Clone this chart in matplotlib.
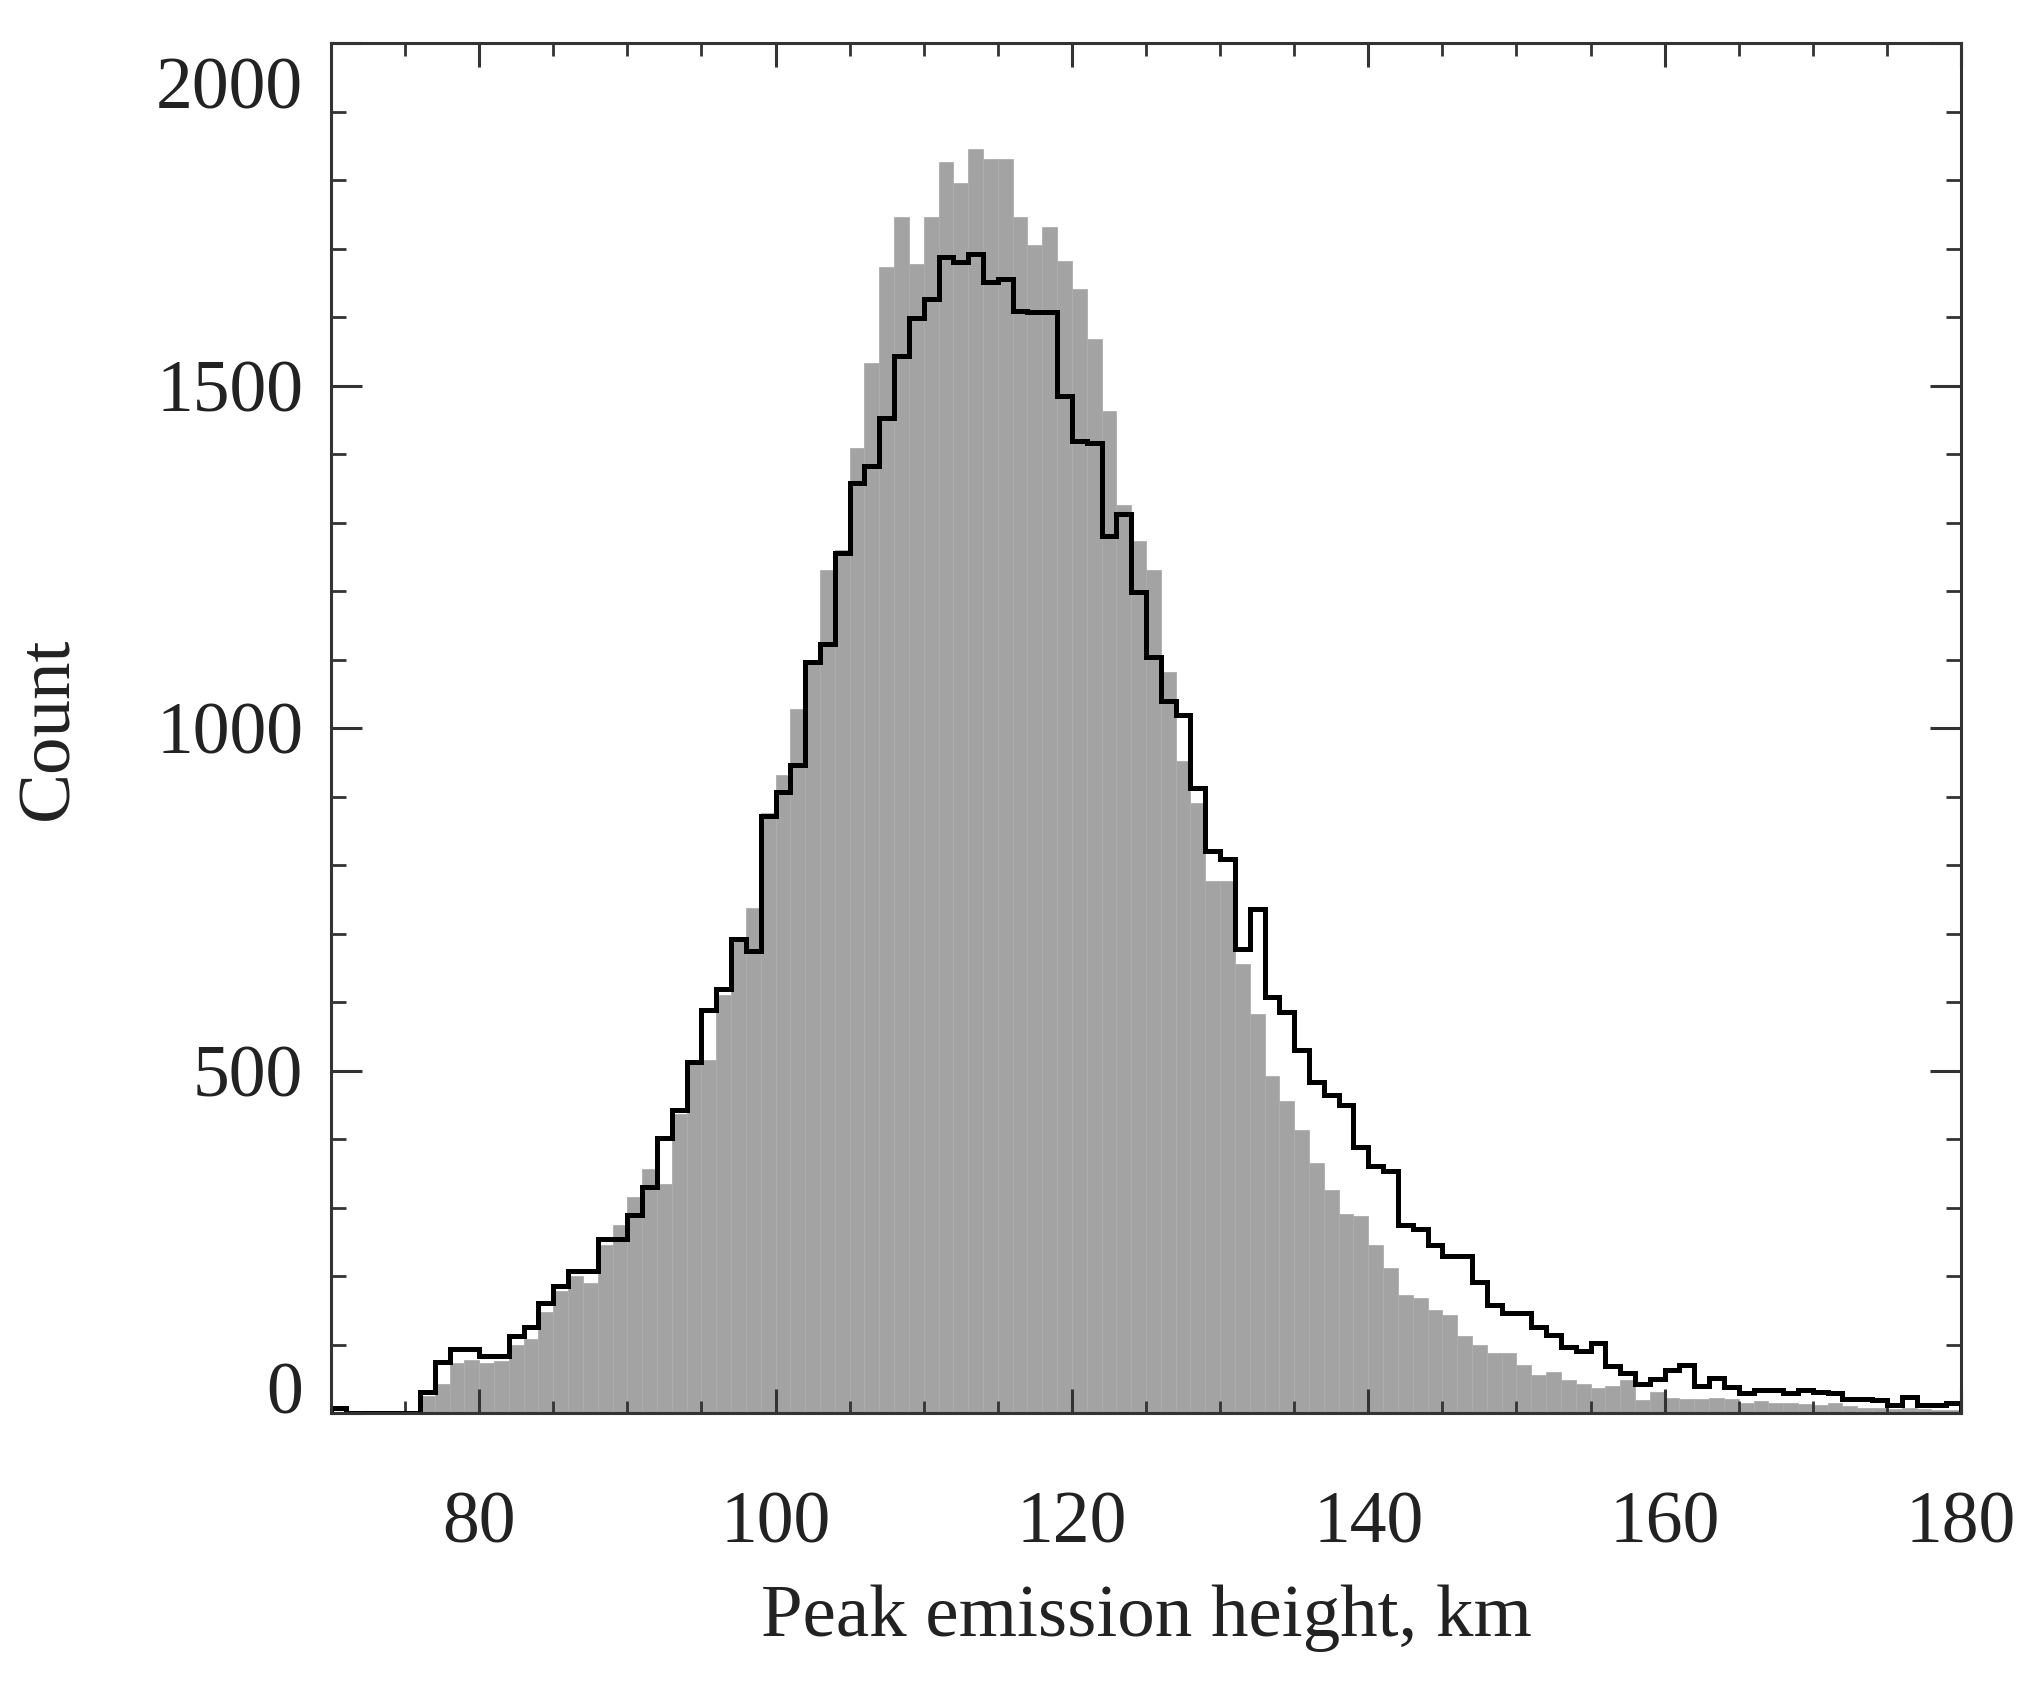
import numpy as np
import matplotlib
matplotlib.use("Agg")
import matplotlib.pyplot as plt
from matplotlib.ticker import MultipleLocator
from matplotlib.transforms import ScaledTranslation

# 1 km bins from 70 to 180 km
bin_edges = np.arange(70, 181, 1)

# grey histogram (filled bars)
grey_counts = [
    0, 0, 0, 0, 0, 0, 25, 43, 73, 78,            # 70-79
    73, 76, 100, 108, 148, 178, 200, 190, 245, 275,   # 80-89
    316, 356, 334, 437, 513, 515, 610, 692, 737, 876,  # 90-99
    931, 1028, 1096, 1230, 1260, 1409, 1533, 1673, 1746, 1677,  # 100-109
    1746, 1826, 1795, 1846, 1831, 1831, 1746, 1705, 1731, 1682,  # 110-119
    1641, 1568, 1463, 1326, 1273, 1231, 1082, 952, 890, 776,   # 120-129
    776, 655, 582, 492, 456, 413, 365, 326, 290, 287,          # 130-139
    245, 212, 173, 168, 151, 143, 112, 100, 87, 87,            # 140-149
    70, 56, 60, 48, 43, 36, 39, 48, 19, 30,                    # 150-159
    22, 20, 20, 22, 20, 15, 17, 15, 15, 13,                    # 160-169
    12, 14, 10, 8, 8, 6, 8, 6, 5, 5,                           # 170-179
]

# black step histogram (outline)
line_counts = [
    8, 0, 0, 0, 0, 0, 31, 75, 93, 93,
    83, 83, 112, 126, 160, 185, 207, 207, 254, 254,
    289, 330, 402, 443, 513, 588, 619, 692, 674, 872,
    907, 946, 1096, 1122, 1256, 1357, 1382, 1453, 1543, 1599,
    1626, 1687, 1680, 1692, 1651, 1655, 1609, 1607, 1607, 1485,
    1419, 1416, 1280, 1312, 1199, 1104, 1039, 1019, 913, 820,
    809, 678, 736, 608, 585, 530, 483, 465, 450, 388,
    360, 353, 275, 268, 246, 229, 229, 192, 158, 146,
    146, 126, 114, 97, 90, 102, 68, 58, 43, 49,
    63, 70, 40, 51, 38, 29, 34, 34, 29, 34,
    31, 29, 21, 21, 19, 12, 24, 12, 12, 14,
]

x_ticks = [80, 100, 120, 140, 160, 180]
y_ticks = [0, 500, 1000, 1500, 2000]

plt.rcParams["font.family"] = ["Liberation Serif", "DejaVu Serif"]
text_col = "#222222"
axis_col = "#333333"

fig = plt.figure(figsize=(20.37, 16.88), dpi=100)
ax = fig.add_axes([0.1625, 0.1629, 0.8002, 0.8116])

ax.bar(bin_edges[:-1], grey_counts, width=1.0, align="edge",
       color="#a3a3a3", edgecolor="#adadad", linewidth=0.6, zorder=1)
ax.stairs(line_counts, bin_edges, color="black", linewidth=3.6, zorder=3)

ax.set_xlim(70, 180)
ax.set_ylim(0, 2000)

ax.set_xticks(x_ticks)
ax.set_yticks(y_ticks)
ax.xaxis.set_minor_locator(MultipleLocator(5))
ax.yaxis.set_minor_locator(MultipleLocator(100))

ax.tick_params(axis="both", which="both", direction="in", top=True, right=True,
               color=axis_col, labelcolor=text_col, labelsize=53)
ax.tick_params(axis="x", which="major", length=17, width=2.2, pad=56)
ax.tick_params(axis="x", which="minor", length=9, width=2.0)
ax.tick_params(axis="y", which="major", length=22, width=2.2, pad=20)
ax.tick_params(axis="y", which="minor", length=11, width=2.0)

for sp in ax.spines.values():
    sp.set_color(axis_col)
    sp.set_linewidth(2.2)
    sp.set_zorder(4)

# end labels sit inside the axis range, like the original
ylabs = ax.get_yticklabels()
ylabs[0].set_va("baseline")
ylabs[-1].set_va("top")
ylabs[-1].set_transform(ylabs[-1].get_transform()
                        + ScaledTranslation(0, -10 / 72, fig.dpi_scale_trans))

ax.set_xlabel("Peak emission height, km", fontsize=54, color=text_col)
ax.set_ylabel("Count", fontsize=54, color=text_col)
ax.xaxis.set_label_coords(0.5, -0.125)
ax.yaxis.set_label_coords(-0.152, 0.5)

fig.savefig("out.png", dpi=100, facecolor="white")
